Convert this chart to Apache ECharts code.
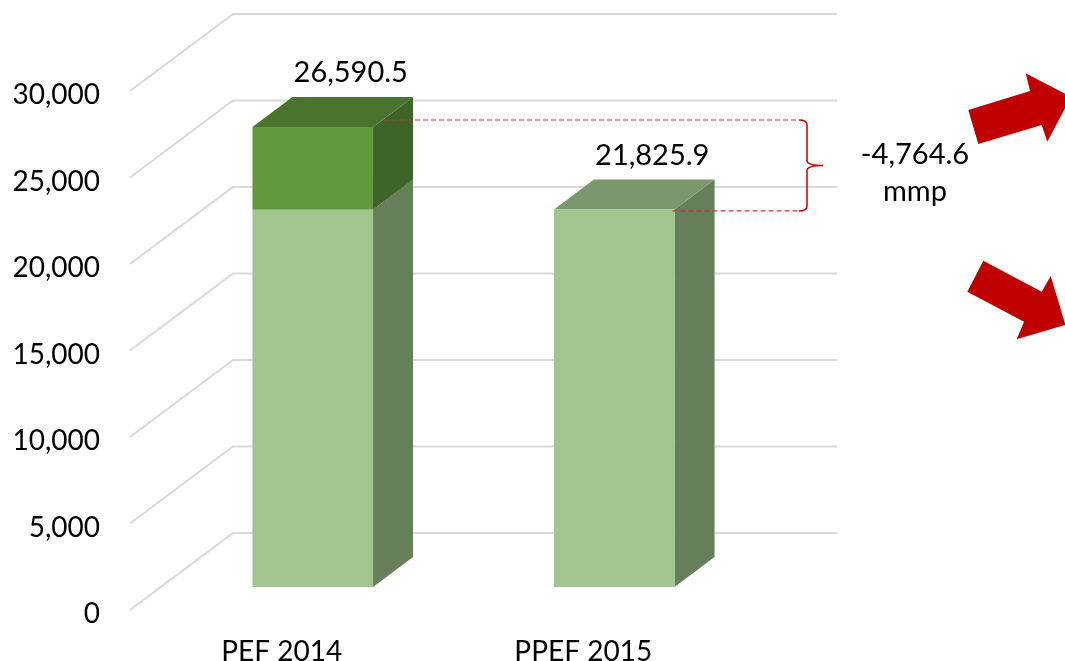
<!DOCTYPE html>
<html>
<head>
<meta charset="utf-8">
<title>PEF 2014 vs PPEF 2015</title>
<script src="https://cdn.jsdelivr.net/npm/echarts@6/dist/echarts.min.js"></script>
<style>
  html, body { margin: 0; padding: 0; background: #fff; }
  #main { width: 1065px; height: 661px; }
</style>
</head>
<body>
<div id="main"></div>
<script>
// data
const categories = ['PEF 2014', 'PPEF 2015'];
const baseValues = [21825.9, 21825.9];
const cutValues = [4764.6, 0];
const totals = [26590.5, 21825.9];
const yTicks = [0, 5000, 10000, 15000, 20000, 25000, 30000];
const gapText = ['-4,764.6', 'mmp'];

const FONT = 'Lato, "Open Sans", sans-serif';
const DX = 40, DY = -30;          // bar depth
const BAR_RATIO = 0.4;
const faces = [
  { front: '#a2c48e', side: '#667f5a', top: '#7b976d' },
  { front: '#62993e', side: '#3f6429', top: '#4b7330' }
];

function fmt(v, d) {
  return v.toLocaleString('en-US', { minimumFractionDigits: d, maximumFractionDigits: d });
}

// bar segments: [category, start, end, style]
const segments = [];
categories.forEach((c, i) => {
  segments.push([i, 0, baseValues[i], 0]);
  if (cutValues[i] > 0) segments.push([i, baseValues[i], baseValues[i] + cutValues[i], 1]);
});

// floor + wall gridlines
function renderWall(params, api) {
  const y = api.coord([0, api.value(1)])[1];
  return {
    type: 'polyline',
    silent: true,
    shape: { points: [[130, y + 23], [233, y - 54], [837, y - 54]] },
    style: { stroke: '#d9d9d9', lineWidth: 2, fill: null }
  };
}

function renderBar(params, api) {
  const i = api.value(0);
  const p0 = api.coord([i, api.value(1)]);
  const p1 = api.coord([i, api.value(2)]);
  const w = api.size([1, 0])[0] * BAR_RATIO;
  const x0 = p0[0] - w / 2, x1 = p0[0] + w / 2;
  const yb = p0[1], yt = p1[1];
  const c = faces[api.value(3)];
  return {
    type: 'group',
    children: [
      { type: 'polygon', shape: { points: [[x1, yb], [x1 + DX, yb + DY], [x1 + DX, yt + DY], [x1, yt]] }, style: { fill: c.side } },
      { type: 'polygon', shape: { points: [[x0, yt], [x1, yt], [x1 + DX, yt + DY], [x0 + DX, yt + DY]] }, style: { fill: c.top } },
      { type: 'rect', shape: { x: x0, y: yt, width: w, height: yb - yt }, style: { fill: c.front } }
    ]
  };
}

function renderLabel(params, api) {
  const p = api.coord([api.value(0), api.value(1)]);
  return {
    type: 'text',
    x: p[0] + DX - 2,
    y: p[1] + DY - 24,
    style: {
      text: fmt(api.value(1), 1),
      fontSize: 29, fontFamily: FONT, fill: '#000',
      align: 'center', verticalAlign: 'middle',
      textAlign: 'center', textVerticalAlign: 'middle'
    }
  };
}

// dashed guides + brace + difference text
function renderGap(params, api) {
  const w = api.size([1, 0])[0] * BAR_RATIO;
  const a = api.coord([api.value(0), api.value(1)]);
  const b = api.coord([api.value(2), api.value(3)]);
  const yt = a[1] - 7, yb = b[1] + 1.5, ym = (yt + yb) / 2;
  const bx = 807;
  const dash = { stroke: '#d03030', lineWidth: 1.2, lineDash: [5, 3], fill: null };
  return {
    type: 'group',
    children: [
      { type: 'line', shape: { x1: a[0] + w / 2 + 10, y1: yt, x2: bx - 8, y2: yt }, style: dash },
      { type: 'line', shape: { x1: b[0] + w / 2 - 2, y1: yb, x2: bx - 8, y2: yb }, style: dash },
      {
        type: 'path',
        shape: {
          pathData: 'M' + (bx - 8) + ' ' + yt + ' Q' + bx + ' ' + yt + ' ' + bx + ' ' + (yt + 5) +
            ' L' + bx + ' ' + (ym - 5) + ' Q' + bx + ' ' + ym + ' ' + (bx + 16) + ' ' + ym +
            ' Q' + bx + ' ' + ym + ' ' + bx + ' ' + (ym + 5) +
            ' L' + bx + ' ' + (yb - 5) + ' Q' + bx + ' ' + yb + ' ' + (bx - 8) + ' ' + yb
        },
        style: { stroke: '#c00000', lineWidth: 1.5, fill: null }
      },
      {
        type: 'text',
        x: 915, y: ym + 8,
        style: {
          text: gapText.join('\n'), lineHeight: 37,
          fontSize: 29, fontFamily: FONT, fill: '#000',
          align: 'center', verticalAlign: 'middle',
          textAlign: 'center', textVerticalAlign: 'middle'
        }
      }
    ]
  };
}

const chart = echarts.init(document.getElementById('main'), null, { renderer: 'canvas' });
chart.setOption({
  animation: false,
  backgroundColor: '#fff',
  textStyle: { fontFamily: FONT },
  grid: [
    { left: 162, top: 68, width: 603, height: 519, outerBoundsMode: 'none', containLabel: false },
    { left: 131, top: 95, width: 603, height: 519, outerBoundsMode: 'none', containLabel: false }
  ],
  xAxis: [
    { type: 'category', gridIndex: 0, data: categories, show: false },
    {
      type: 'category', gridIndex: 1, data: categories,
      axisLine: { show: false }, axisTick: { show: false },
      axisLabel: { fontSize: 28, color: '#000', margin: 24, fontFamily: FONT }
    }
  ],
  yAxis: [
    { type: 'value', gridIndex: 0, min: 0, max: 30000, interval: 5000, show: false },
    {
      type: 'value', gridIndex: 1, min: 0, max: 30000, interval: 5000,
      axisLine: { show: false }, axisTick: { show: false }, splitLine: { show: false },
      axisLabel: { fontSize: 28, color: '#000', margin: 31, fontFamily: FONT, formatter: v => fmt(v, 0) }
    }
  ],
  series: [
    { name: 'walls', type: 'custom', xAxisIndex: 0, yAxisIndex: 0, z: 1, silent: true,
      renderItem: renderWall, data: yTicks.map(v => [0, v]) },
    { name: 'bars', type: 'custom', xAxisIndex: 0, yAxisIndex: 0, z: 2, silent: true,
      renderItem: renderBar, data: segments },
    { name: 'labels', type: 'custom', xAxisIndex: 0, yAxisIndex: 0, z: 3, silent: true,
      renderItem: renderLabel, data: totals.map((v, i) => [i, v]) },
    { name: 'gap', type: 'custom', xAxisIndex: 0, yAxisIndex: 0, z: 3, silent: true,
      renderItem: renderGap, data: [[0, totals[0], 1, totals[1]]] }
  ],
  graphic: [
    { type: 'polygon', silent: true, z: 10,
      shape: { points: [[968.3, 110], [1030, 91], [1025.7, 73.3], [1071, 97], [1047.3, 141.7], [1041.7, 125], [978.3, 144]] },
      style: { fill: '#c00000' } },
    { type: 'polygon', silent: true, z: 10,
      shape: { points: [[983.3, 260.7], [1041.7, 291.7], [1050.7, 276], [1065.4, 324.8], [1016.7, 339.3], [1024, 321.7], [967.3, 291.7]] },
      style: { fill: '#c00000' } }
  ]
});
</script>
</body>
</html>
